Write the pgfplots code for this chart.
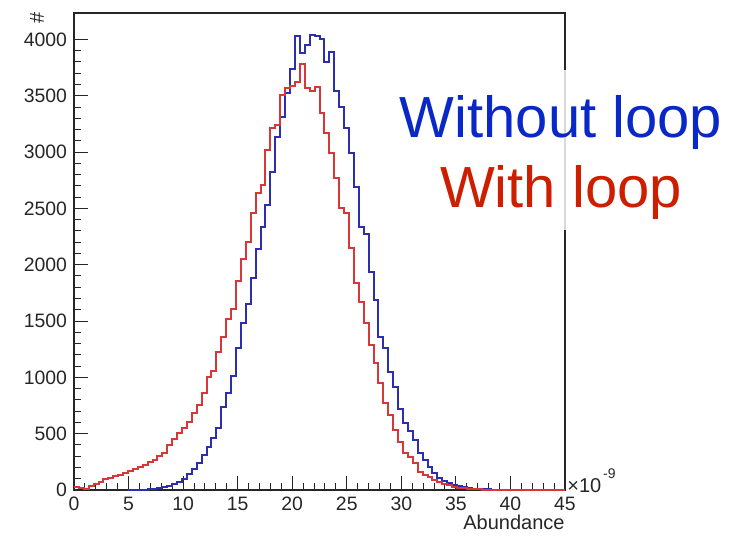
\documentclass[border=0pt]{standalone}
\usepackage{fontspec}
\setmainfont{Liberation Sans}
\usepackage{pgfplots}
\pgfplotsset{compat=1.18}
\definecolor{histBlue}{RGB}{45,45,175}
\definecolor{histRed}{RGB}{215,55,55}
\definecolor{txtBlue}{RGB}{10,40,200}
\definecolor{txtRed}{RGB}{205,30,0}
\begin{document}
\begin{tikzpicture}
% fixed page: 1 px of the reference = 0.5pt, axis box origin at (0,0)
\path[use as bounding box] (-37pt,-23pt) rectangle (337pt,245pt);
\begin{axis}[
  at={(0,0)}, anchor=south west,
  scale only axis, width=245.5pt, height=238.5pt,
  xmin=0, xmax=45, ymin=0, ymax=4235,
  xtick={0,5,...,45}, ytick={0,500,...,4000},
  minor x tick num=4, minor y tick num=4,
  tick pos=left, tick align=inside,
  major tick length=7pt, minor tick length=3.75pt,
  axis line style={black!85, line width=0.75pt},
  tick style={black!85, line width=0.5pt},
  tick label style={font=\fontsize{9.7}{11}\selectfont, text=black!85},
  /pgf/number format/assume math mode=true,
  /pgf/number format/1000 sep={},
  clip=false,
]
% without loop
\addplot[const plot, histBlue, line width=1pt] coordinates {
(4.95,0) (5.4,1) (5.85,1) (6.3,2) (6.75,5) (7.2,10) (7.65,18) (8.1,28) (8.55,38) (9,52)
(9.45,70) (9.9,98) (10.35,145) (10.8,184) (11.25,243) (11.7,311) (12.15,385) (12.6,459)
(13.05,553) (13.5,740) (13.95,864) (14.4,1010) (14.85,1258) (15.3,1480) (15.75,1655)
(16.2,1880) (16.65,2140) (17.1,2338) (17.55,2531) (18,2827) (18.45,3138) (18.9,3315)
(19.35,3523) (19.8,3736) (20.25,4030) (20.7,3880) (21.15,3952) (21.6,4040) (22.05,4035)
(22.5,4005) (22.95,3804) (23.4,3893) (23.85,3546) (24.3,3400) (24.75,3215) (25.2,2996)
(25.65,2694) (26.1,2338) (26.55,2275) (27,1939) (27.45,1687) (27.9,1361) (28.35,1258)
(28.8,1045) (29.25,917) (29.7,715) (30.15,592) (30.6,525) (31.05,440) (31.5,326)
(31.95,266) (32.4,207) (32.85,148) (33.3,107) (33.75,82) (34.2,62) (34.65,45) (35.1,33)
(35.55,25) (36,18) (36.45,13) (36.9,10) (37.35,7) (37.8,5) (38.25,3) (38.7,2) (39.15,1)
(39.6,1) (40.05,0)
};
% with loop
\addplot[const plot, histRed, line width=1pt] coordinates {
(0,30) (0.45,22) (0.9,8) (1.35,38) (1.8,52) (2.25,72) (2.7,95) (3.15,110) (3.6,120)
(4.05,135) (4.5,150) (4.95,170) (5.4,185) (5.85,200) (6.3,222) (6.75,245) (7.2,266)
(7.65,300) (8.1,326) (8.55,400) (9,450) (9.45,503) (9.9,548) (10.35,607) (10.8,681)
(11.25,755) (11.7,859) (12.15,1006) (12.6,1056) (13.05,1228) (13.5,1361) (13.95,1516)
(14.4,1605) (14.85,1860) (15.3,2050) (15.75,2205) (16.2,2463) (16.65,2641) (17.1,2709)
(17.55,3020) (18,3218) (18.45,3241) (18.9,3508) (19.35,3567) (19.8,3590) (20.25,3625)
(20.7,3780) (21.15,3565) (21.6,3546) (22.05,3582) (22.5,3345) (22.95,3168) (23.4,2990)
(23.85,2768) (24.3,2502) (24.75,2457) (25.2,2147) (25.65,1836) (26.1,1672) (26.55,1480)
(27,1288) (27.45,1125) (27.9,948) (28.35,770) (28.8,666) (29.25,533) (29.7,429)
(30.15,326) (30.6,296) (31.05,237) (31.5,163) (31.95,133) (32.4,113) (32.85,89)
(33.3,70) (33.75,52) (34.2,40) (34.65,30) (35.1,22) (35.55,15) (36,11) (36.45,8)
(36.9,5) (37.35,4) (37.8,3) (38.25,2) (38.7,1) (39.15,1) (39.6,0) (45,0)
};
\end{axis}
% axis titles
\node[anchor=north east, inner sep=0, font=\fontsize{10}{12}\selectfont, text=black!85] at (245.5pt,-12.5pt) {Abundance};
\node[rotate=90, inner sep=0, font=\fontsize{10}{12}\selectfont, text=black!85] at (-18.5pt,236pt) {\#};
\node[anchor=base west, inner sep=0, font=\fontsize{10}{12}\selectfont, text=black!85] (e) at (246.5pt,-1.2pt) {×10};
\node[anchor=base west, inner sep=0, font=\fontsize{7}{8}\selectfont, text=black!85] at ([xshift=0.5pt,yshift=7pt]e.base east) {-9};
% legend text on a white box
\fill[white] (160.5pt,130pt) rectangle (329pt,210pt);
\draw[black!15, line width=0.75pt] (245.5pt,130pt) -- (245.5pt,210pt);
\node[anchor=base, inner sep=0, text=txtBlue, font=\fontsize{29}{34}\selectfont] at (243.5pt,176pt) {Without loop};
\node[anchor=base, inner sep=0, text=txtRed, font=\fontsize{29}{34}\selectfont] at (243.5pt,141.5pt) {With loop};
\end{tikzpicture}
\end{document}
